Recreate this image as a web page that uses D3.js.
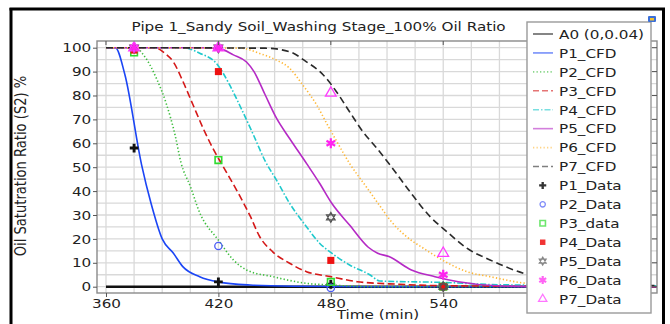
<!DOCTYPE html>
<html>
<head>
<meta charset="utf-8">
<script src="https://cdn.jsdelivr.net/npm/d3@7"></script>
<style>
  body { margin: 0; background: #fff; }
  svg { display: block; font-family: "DejaVu Sans", sans-serif; }
</style>
</head>
<body>
<svg id="chart"></svg>
<script>
const w = 670;
const h = 324;
const SX = 1.16; // the picture is a bit wider than tall

// CFD curves (time in min, oil saturation in %)
const a0Time = [360, 654];
const a0Vals = [0, 0];

const p1Time = [360, 365, 370, 379, 384, 390, 396, 401, 410, 420, 437, 460, 500, 654];
const p1Vals = [100, 100, 89, 51, 35, 20, 14, 8.4, 4.2, 2, 0.7, 0.2, 0, 0];

const p2Time = [360, 376, 380, 384, 387, 392, 397, 400, 405, 410, 420, 428, 435, 449, 467, 480, 500, 654];
const p2Vals = [100, 100, 97, 92, 87, 77, 63, 52, 42, 31, 19.5, 11.2, 7, 4.2, 1.4, 0.7, 0, 0];

const p3Time = [360, 386, 391.5, 396, 401, 406.5, 412, 418, 422, 430, 437, 442, 449, 458, 467, 480, 494, 517, 540, 654];
const p3Vals = [100, 100, 97.6, 94, 86, 76, 66, 56.5, 51, 40, 29.5, 21, 14.6, 9.8, 6.3, 4.2, 2.1, 1, 0.4, 0];

const p4Time = [360, 401, 410, 419.6, 426, 431.6, 438.7, 445, 451, 458, 467, 474, 480.5, 490, 501, 506, 517, 527, 540, 570, 654];
const p4Vals = [100, 100, 97.7, 92.8, 84.4, 75.5, 63.5, 52.5, 44.6, 34.9, 25.1, 18.2, 14, 9.1, 4.9, 2.4, 2.1, 2, 1.8, 0.8, 0.3];

const p5Time = [360, 410, 420, 428, 435, 439, 445, 451, 458, 467, 474, 480.5, 490, 500, 505, 511, 523, 535.6, 548, 571, 600, 654];
const p5Vals = [100, 100, 99.7, 97, 94, 90, 80.2, 70.5, 62, 51.6, 43.3, 34.9, 25.8, 16.5, 14, 12.6, 7, 4.2, 2.1, 0.3, 0, 0];

const p6Time = [360, 432, 442, 451, 458, 465, 472.5, 478, 483, 490, 499, 508, 511.6, 520.5, 529.4, 541, 552.6, 565, 584.6, 610, 654];
const p6Vals = [100, 99.8, 97.6, 94.8, 91.4, 84.4, 76, 68, 61, 51.6, 41.7, 31.8, 27.9, 20.9, 16.1, 10.5, 6.3, 4.2, 1.4, 0.5, 0.2];

const p7Time = [360, 445, 458, 467, 476, 483, 490, 497, 504.5, 512, 522, 533, 542, 552.6, 565, 583, 600, 625, 654];
const p7Vals = [100, 99.8, 98.3, 94.1, 88.6, 81.6, 73.2, 65, 58, 50.5, 40, 29.3, 23, 16.1, 11.2, 5.6, 3, 1.2, 0.5];

// measured points
const dataTime = [375, 420, 480, 540];
const p1Data = [58, 2, 1, 0];
const p2Data = [null, 17, -0.5, 0];
const p3Data = [98, 53, 2, 0];
const p4Data = [99, 90, 11, 0];
const p5Data = [100, 100, 29, 0];
const p6Data = [100, 100, 60, 5];
const p7Data = [100, 100, 81, 14];

// the 600 label sits under the legend in the original, so only these show
const xTicks = [360, 420, 480, 540];
const yTicks = [0, 10, 20, 30, 40, 50, 60, 70, 80, 90, 100];

const titleText = "Pipe 1_Sandy Soil_Washing Stage_100% Oil Ratio";
const xLabel = "Time (min)";
const yLabel = "Oil Satutration Ratio (S2) %";

const svg = d3.select("#chart")
  .attr("width", w)
  .attr("height", h)
  .attr("viewBox", [0, 0, w, h]);

const pLeft = 97, pRight = 657, pTop = 41, pBottom = 293;

const x = d3.scaleLinear().domain([355.2, 654.1]).range([pLeft, pRight]);
const y = d3.scaleLinear().domain([-2.64, 102.8]).range([pBottom, pTop]);

// grid
const grid = svg.append("g").attr("stroke", "#d9d9d9").attr("stroke-width", 1.3);
grid.selectAll("line.v")
  .data(d3.range(360, 654, 15))
  .enter().append("line").attr("class", "v")
  .attr("x1", d => x(d)).attr("x2", d => x(d))
  .attr("y1", pTop).attr("y2", pBottom);
grid.selectAll("line.h")
  .data(d3.range(0, 101, 5))
  .enter().append("line").attr("class", "h")
  .attr("x1", pLeft).attr("x2", pRight)
  .attr("y1", d => y(d)).attr("y2", d => y(d));

svg.append("clipPath").attr("id", "plotclip")
  .append("rect")
  .attr("x", pLeft).attr("y", pTop)
  .attr("width", pRight - pLeft).attr("height", pBottom - pTop);

const series = [
  { name: "A0 (0,0.04)", t: a0Time, v: a0Vals, color: "#111", legColor: "#666", dash: null, width: 2.4 },
  { name: "P1_CFD", t: p1Time, v: p1Vals, color: "#1b45f5", dash: null, width: 1.6 },
  { name: "P2_CFD", t: p2Time, v: p2Vals, color: "#3cbc3c", dash: "1.3,2.2", width: 1.6 },
  { name: "P3_CFD", t: p3Time, v: p3Vals, color: "#d41818", dash: "7,3.5", width: 1.6 },
  { name: "P4_CFD", t: p4Time, v: p4Vals, color: "#1fc9cc", dash: "6,2,1.5,2", width: 1.6 },
  { name: "P5_CFD", t: p5Time, v: p5Vals, color: "#b52ac5", dash: null, width: 1.6 },
  { name: "P6_CFD", t: p6Time, v: p6Vals, color: "#ffb735", dash: "1.3,2.2", width: 1.6 },
  { name: "P7_CFD", t: p7Time, v: p7Vals, color: "#2a2a2a", dash: "7,4", width: 1.6 }
];

const line = d3.line()
  .x(d => x(d[0]))
  .y(d => y(d[1]))
  .curve(d3.curveMonotoneX);

const curves = svg.append("g").attr("clip-path", "url(#plotclip)");
curves.selectAll("path")
  .data(series)
  .enter().append("path")
  .attr("d", s => line(d3.zip(s.t, s.v)))
  .attr("fill", "none")
  .attr("stroke", s => s.color)
  .attr("stroke-width", s => s.width)
  .attr("stroke-dasharray", s => s.dash);

// marker shapes
function hexagram(r) {
  const corners = off => d3.range(3).map(k => {
    const a = (off + k * 120) * Math.PI / 180;
    return [r * Math.cos(a), r * Math.sin(a)];
  });
  const tri = p => "M" + p.map(q => q[0].toFixed(2) + "," + q[1].toFixed(2)).join("L") + "Z";
  return tri(corners(-90)) + tri(corners(90));
}

const markers = [
  { name: "P1_Data", v: p1Data, path: d3.symbol(d3.symbolCross, 42)(), legPath: d3.symbol(d3.symbolCross, 28)(), fill: "#111", stroke: "none", sw: 0 },
  { name: "P2_Data", v: p2Data, path: d3.symbol(d3.symbolCircle, 42)(), legPath: d3.symbol(d3.symbolCircle, 22)(), fill: "none", stroke: "#4b5cf5", sw: 1.3 },
  { name: "P3_data", v: p3Data, path: d3.symbol(d3.symbolSquare, 44)(), legPath: d3.symbol(d3.symbolSquare, 30)(), fill: "none", stroke: "#2fdc2f", sw: 1.6 },
  { name: "P4_Data", v: p4Data, path: d3.symbol(d3.symbolSquare, 50)(), legPath: d3.symbol(d3.symbolSquare, 30)(), fill: "#ee1111", stroke: "none", sw: 0 },
  { name: "P5_Data", v: p5Data, path: hexagram(5), legPath: hexagram(4), fill: "none", stroke: "#555", sw: 1.2 },
  { name: "P6_Data", v: p6Data, path: d3.symbol(d3.symbolAsterisk, 70)(), legPath: d3.symbol(d3.symbolAsterisk, 45)(), fill: "none", stroke: "#ff22f0", sw: 2.2 },
  { name: "P7_Data", v: p7Data, path: d3.symbol(d3.symbolTriangle, 50)(), legPath: d3.symbol(d3.symbolTriangle, 30)(), fill: "none", stroke: "#ff3cff", sw: 1.3 }
];

const pts = svg.append("g");
markers.forEach(m => {
  pts.append("g").selectAll("path")
    .data(d3.zip(dataTime, m.v).filter(d => d[1] !== null))
    .enter().append("path")
    .attr("transform", d => `translate(${x(d[0])},${y(d[1])})`)
    .attr("d", m.path)
    .attr("fill", m.fill)
    .attr("stroke", m.stroke)
    .attr("stroke-width", m.sw);
});

// plot frame
svg.append("rect")
  .attr("x", pLeft).attr("y", pTop)
  .attr("width", pRight - pLeft).attr("height", pBottom - pTop)
  .attr("fill", "none").attr("stroke", "#8a8a8a").attr("stroke-width", 1.4);

// axes
const yAxis = svg.append("g")
  .attr("transform", `translate(${pLeft},0)`)
  .call(d3.axisLeft(y).tickValues(yTicks).tickSize(4).tickPadding(1));
const xAxis = svg.append("g")
  .attr("transform", `translate(0,${pBottom})`)
  .call(d3.axisBottom(x).tickValues(xTicks).tickFormat(d3.format("d")).tickSize(4).tickPadding(1.5));
[yAxis, xAxis].forEach(a => {
  a.select(".domain").remove();
  a.selectAll("line").attr("stroke", "#555");
  a.selectAll("text")
    .attr("font-size", 13.1)
    .attr("fill", "#222")
    .attr("font-family", "DejaVu Sans")
    .attr("transform", `scale(${SX},1)`);
});

// small inner ticks on right and top
svg.append("g").selectAll("line")
  .data(yTicks).enter().append("line")
  .attr("x1", pRight - 5).attr("x2", pRight)
  .attr("y1", d => y(d)).attr("y2", d => y(d))
  .attr("stroke", "#555");
svg.append("g").selectAll("line")
  .data(xTicks).enter().append("line")
  .attr("x1", d => x(d)).attr("x2", d => x(d))
  .attr("y1", pTop).attr("y2", pTop + 4)
  .attr("stroke", "#555");

function stretched(g, px, py, str, anchor) {
  return g.append("text")
    .attr("transform", `translate(${px},${py}) scale(${SX},1)`)
    .attr("text-anchor", anchor)
    .attr("font-size", 13.1)
    .attr("fill", "#222")
    .text(str);
}

stretched(svg, 318.6, 31, titleText, "middle");
stretched(svg, 378, 319, xLabel, "middle");
svg.append("text")
  .attr("transform", `translate(26,166) rotate(-90) scale(1,${SX})`)
  .attr("text-anchor", "middle")
  .attr("font-size", 13.1)
  .attr("fill", "#222")
  .text(yLabel);

// legend
const legend = svg.append("g");
legend.append("rect")
  .attr("x", 527).attr("y", 22)
  .attr("width", 124).attr("height", 291)
  .attr("fill", "#fff")
  .attr("stroke", "#9a9a9a")
  .attr("stroke-width", 1.4);

const rowY = i => 34 + i * 18.93;
series.forEach((s, i) => {
  legend.append("line")
    .attr("x1", 533).attr("x2", 553)
    .attr("y1", rowY(i)).attr("y2", rowY(i))
    .attr("stroke", s.legColor || s.color)
    .attr("stroke-opacity", s.legColor ? 1 : 0.6)
    .attr("stroke-width", 1.6)
    .attr("stroke-dasharray", s.dash ? (s.dash === "7,4" || s.dash === "7,3.5" ? "6,3" : s.dash) : null);
  stretched(legend, 559, rowY(i) + 4.8, s.name, "start");
});
markers.forEach((m, j) => {
  const i = series.length + j;
  legend.append("path")
    .attr("transform", `translate(542.7,${rowY(i)})`)
    .attr("d", m.legPath)
    .attr("fill", m.fill)
    .attr("fill-opacity", 0.85)
    .attr("stroke", m.stroke)
    .attr("stroke-opacity", 0.7)
    .attr("stroke-width", m.sw);
  stretched(legend, 559, rowY(i) + 4.8, m.name, "start");
});

// outer frame and window icon
const frame = svg.append("g").attr("stroke", "#000").attr("stroke-width", 3);
frame.append("line").attr("x1", 11).attr("x2", 11).attr("y1", 8).attr("y2", h);
frame.append("line").attr("x1", 9.5).attr("x2", 665).attr("y1", 9).attr("y2", 9);
frame.append("line").attr("x1", 663.5).attr("x2", 663.5).attr("y1", 8).attr("y2", h);
svg.append("rect").attr("x", 648).attr("y", 16).attr("width", 8).attr("height", 6)
  .attr("fill", "#3b6fd8").attr("rx", 1);
svg.append("rect").attr("x", 650).attr("y", 18).attr("width", 4).attr("height", 2.5)
  .attr("fill", "#f2c230");
</script>
</body>
</html>
